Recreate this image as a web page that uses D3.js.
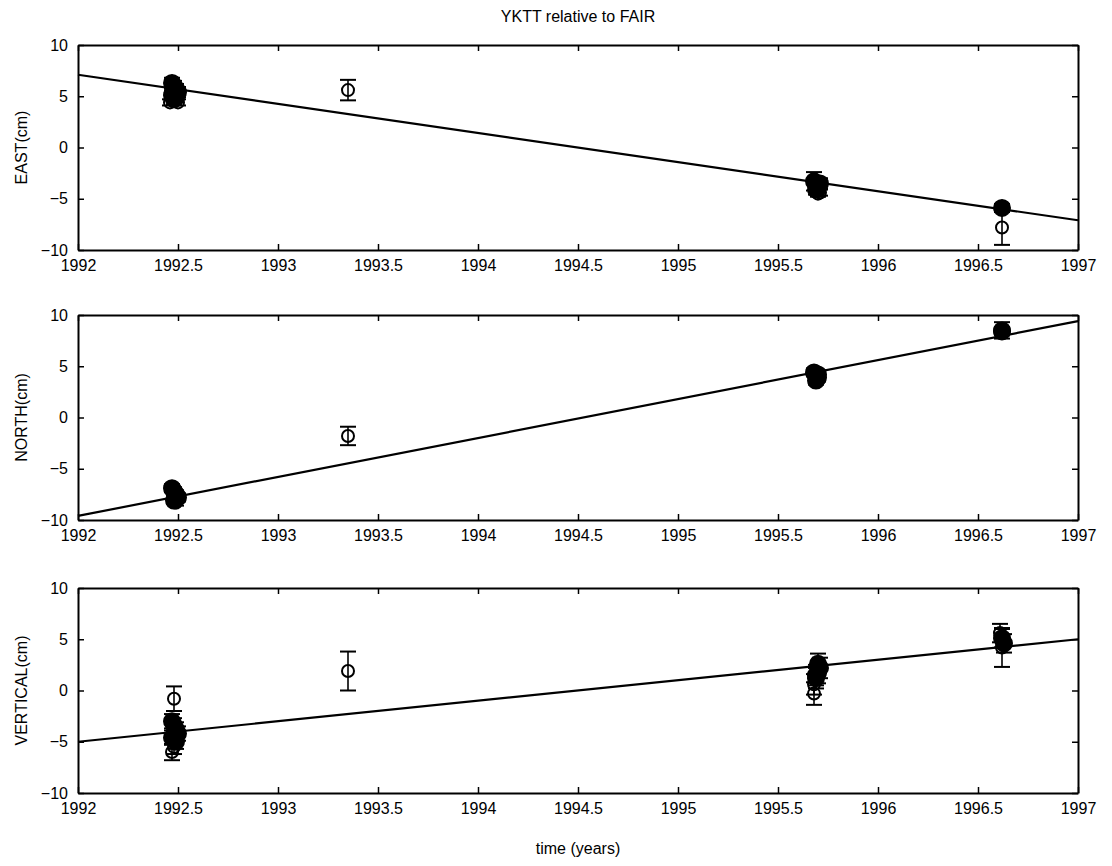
<!DOCTYPE html>
<html>
<head>
<meta charset="utf-8">
<script src="https://cdn.jsdelivr.net/npm/d3@7"></script>
<style>
  body { margin: 0; background: #fff; }
  svg { display: block; }
  text { font-family: "Liberation Sans", Arial, Helvetica, sans-serif; fill: #000; }
</style>
</head>
<body>
<svg id="chart" width="1112" height="866"></svg>
<script>
// Station YKTT position relative to FAIR, three components (cm) vs time (years)
const xTicks = [1992, 1992.5, 1993, 1993.5, 1994, 1994.5, 1995, 1995.5, 1996, 1996.5, 1997];
const yTicks = [-10, -5, 0, 5, 10];

// East component
const eastTime   = [1992.47, 1992.48, 1992.49, 1992.50, 1992.47, 1992.49, 1992.48, 1992.46, 1992.50, 1993.35, 1995.68, 1995.69, 1995.70, 1995.71, 1995.69, 1995.70, 1995.71, 1996.62, 1996.62];
const eastValue  = [6.3, 6.0, 5.7, 5.4, 5.1, 4.9, 4.7, 4.4, 4.4, 5.6, -3.3, -3.6, -3.9, -3.5, -4.1, -4.5, -4.4, -5.9, -7.8];
const eastError  = [0.5, 0.5, 0.5, 0.5, 0.5, 0.5, 0.5, 0.3, 0.3, 1.0, 0.9, 0.5, 0.5, 0.5, 0.5, 0.3, 0.3, 0.4, 1.7];
const eastFilled = [1, 1, 1, 1, 1, 1, 1, 0, 0, 0, 1, 1, 1, 1, 1, 0, 0, 1, 0];
const eastFit    = [7.1, -7.1];

// North component
const northTime   = [1992.47, 1992.48, 1992.49, 1992.50, 1992.48, 1992.49, 1993.35, 1995.68, 1995.69, 1995.70, 1995.69, 1995.70, 1996.62, 1996.62];
const northValue  = [-6.9, -7.2, -7.5, -7.8, -8.1, -8.3, -1.8, 4.4, 4.1, 3.9, 3.6, 4.2, 8.5, 8.4];
const northError  = [0.4, 0.4, 0.4, 0.4, 0.3, 0.3, 0.9, 0.4, 0.4, 0.4, 0.4, 0.4, 0.8, 0.4];
const northFilled = [1, 1, 1, 1, 1, 0, 0, 1, 1, 1, 1, 1, 1, 1];
const northFit    = [-9.6, 9.4];

// Vertical component
const vertTime   = [1992.48, 1992.47, 1992.48, 1992.49, 1992.50, 1992.47, 1992.49, 1992.48, 1992.47, 1993.35, 1995.68, 1995.68, 1995.69, 1995.70, 1995.71, 1995.70, 1995.69, 1996.61, 1996.62, 1996.63, 1996.62];
const vertValue  = [-0.8, -3.0, -3.4, -3.8, -4.2, -4.6, -5.0, -5.5, -6.0, 1.9, -0.3, 0.6, 1.2, 1.7, 2.2, 2.6, 1.5, 5.6, 5.1, 4.6, 4.2];
const vertError  = [1.2, 0.7, 0.7, 0.7, 0.7, 0.7, 0.7, 0.7, 0.8, 1.9, 1.1, 1.0, 1.0, 1.0, 1.0, 1.0, 1.0, 0.9, 0.9, 0.9, 1.9];
const vertFilled = [0, 1, 1, 1, 1, 1, 1, 0, 0, 0, 0, 0, 1, 1, 1, 1, 1, 0, 1, 1, 0];
const vertFit    = [-5.0, 5.0];

const fitRange = [1992, 1997];

const panels = [
  { label: "EAST(cm)",     time: eastTime,  value: eastValue,  err: eastError,  filled: eastFilled,  fit: eastFit,  top: 45 },
  { label: "NORTH(cm)",    time: northTime, value: northValue, err: northError, filled: northFilled, fit: northFit, top: 315 },
  { label: "VERTICAL(cm)", time: vertTime,  value: vertValue,  err: vertError,  filled: vertFilled,  fit: vertFit,  top: 588 }
];

const svg = d3.select("#chart");
const left = 78, plotW = 1000, plotH = 205;
const x = d3.scaleLinear().domain([1992, 1997]).range([left, left + plotW]);

svg.append("text")
  .attr("x", left + plotW / 2).attr("y", 22)
  .attr("text-anchor", "middle").attr("font-size", 16)
  .text("YKTT relative to FAIR");

panels.forEach(p => {
  const y = d3.scaleLinear().domain([-10, 10]).range([p.top + plotH, p.top]);
  const g = svg.append("g");

  // fitted trend line
  g.append("line")
    .attr("x1", x(fitRange[0])).attr("y1", y(p.fit[0]))
    .attr("x2", x(fitRange[1])).attr("y2", y(p.fit[1]))
    .attr("stroke", "#000").attr("stroke-width", 2.2);

  // error bars
  const pts = p.time.map((t, i) => ({ t, v: p.value[i], e: p.err[i], f: p.filled[i] }));
  const eb = g.selectAll("g.eb").data(pts).enter().append("g")
    .attr("stroke", "#000").attr("stroke-width", 1.6);
  eb.append("line")
    .attr("x1", d => x(d.t)).attr("x2", d => x(d.t))
    .attr("y1", d => y(d.v - d.e)).attr("y2", d => y(d.v + d.e));
  eb.append("line")
    .attr("x1", d => x(d.t) - 8).attr("x2", d => x(d.t) + 8)
    .attr("y1", d => y(d.v + d.e)).attr("y2", d => y(d.v + d.e)).attr("stroke-width", 2);
  eb.append("line")
    .attr("x1", d => x(d.t) - 8).attr("x2", d => x(d.t) + 8)
    .attr("y1", d => y(d.v - d.e)).attr("y2", d => y(d.v - d.e)).attr("stroke-width", 2);

  // markers
  g.selectAll("circle.pt").data(pts).enter().append("circle")
    .attr("cx", d => x(d.t)).attr("cy", d => y(d.v))
    .attr("r", d => d.f ? 8 : 6)
    .attr("fill", d => d.f ? "#000" : "none")
    .attr("stroke", "#000").attr("stroke-width", 2);

  // axes box with inward ticks on all sides
  const axB = d3.axisBottom(x).tickValues(xTicks).tickSizeInner(-6).tickSizeOuter(0)
    .tickFormat(d3.format("d")).tickPadding(10);
  axB.tickFormat(d => (d % 1 === 0 ? d3.format("d")(d) : d3.format(".1f")(d)));
  const gb = svg.append("g").attr("transform", `translate(0,${p.top + plotH})`).call(axB);
  const gt = svg.append("g").attr("transform", `translate(0,${p.top})`)
    .call(d3.axisTop(x).tickValues(xTicks).tickSizeInner(-6).tickSizeOuter(0).tickFormat(""));
  const gl = svg.append("g").attr("transform", `translate(${left},0)`)
    .call(d3.axisLeft(y).tickValues(yTicks).tickSizeInner(-6).tickSizeOuter(0).tickPadding(10));
  const gr = svg.append("g").attr("transform", `translate(${left + plotW},0)`)
    .call(d3.axisRight(y).tickValues(yTicks).tickSizeInner(-6).tickSizeOuter(0).tickFormat(""));
  [gb, gt, gl, gr].forEach(a => {
    a.select(".domain").attr("stroke", "#000").attr("stroke-width", 2);
    a.selectAll(".tick line").attr("stroke", "#000").attr("stroke-width", 1.5);
    a.selectAll(".tick text").attr("font-size", 16).attr("fill", "#000")
      .attr("font-family", "'Liberation Sans', Arial, sans-serif");
  });

  svg.append("text")
    .attr("transform", `translate(27,${p.top + plotH / 2}) rotate(-90)`)
    .attr("text-anchor", "middle").attr("font-size", 16)
    .text(p.label);
});

svg.append("text")
  .attr("x", left + plotW / 2).attr("y", 854)
  .attr("text-anchor", "middle").attr("font-size", 16)
  .text("time (years)");
</script>
</body>
</html>
